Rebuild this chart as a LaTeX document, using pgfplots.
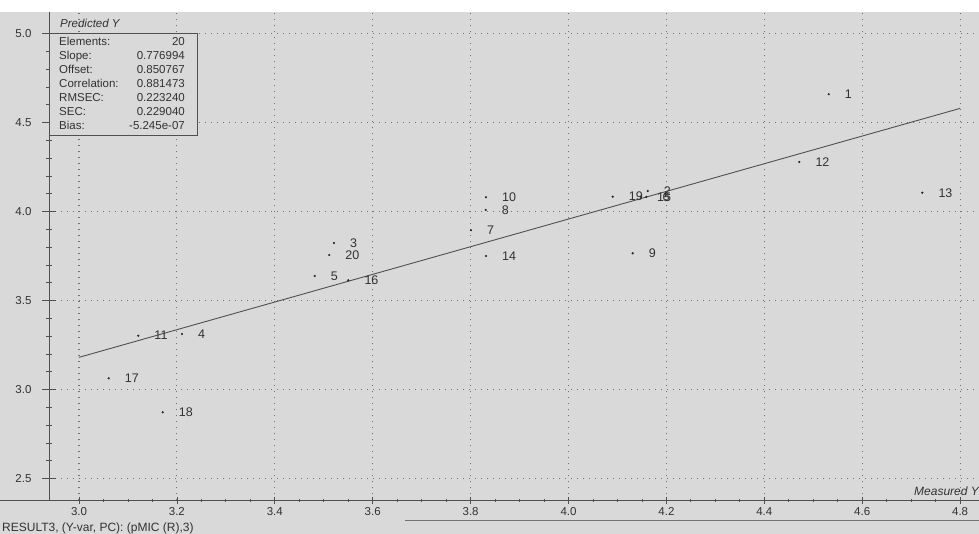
\documentclass[border=0pt]{standalone}
\usepackage{fontspec}
\setmainfont{Liberation Sans}
\usepackage{pgfplots}
\pgfplotsset{compat=1.18}
\usetikzlibrary{backgrounds}
\definecolor{bg}{RGB}{217,217,217}
\definecolor{axc}{RGB}{80,80,80}
\definecolor{gridc}{RGB}{115,115,115}
\definecolor{txt}{RGB}{50,50,50}
\newcommand\PX[2]{({((#1)-49)*1pt},{(500.5-(#2))*1pt})}
\pgfplotsset{base/.style={
  scale only axis, width=930pt, height=488pt,
  xmin=2.93871, xmax=4.83861, ymin=2.3775, ymax=5.1191,
  tick style={draw=axc,line width=0.8pt},
  tick align=outside,
  major grid style={draw=gridc,line width=1.1pt,dash pattern=on 1.1pt off 4.9pt},
  tick label style={font=\fontsize{11.5}{13}\selectfont, text=txt},
}}
\pgfplotstableread{
x y label
4.5316 4.6596 1
4.1618 4.1160 2
3.5209 3.8242 3
3.2104 3.3129 4
3.4815 3.6388 5
4.1590 4.0830 6
3.8008 3.8955 7
3.8308 4.0096 8
4.1311 3.7663 9
3.8315 4.0809 10
3.1211 3.3034 11
4.4715 4.2792 12
4.7228 4.1067 13
3.8315 3.7511 14
4.1480 4.0830 15
3.5502 3.6146 16
3.0607 3.0640 17
3.1710 2.8730 18
4.0903 4.0843 19
3.5113 3.7567 20
}\pts
\begin{document}
\begin{tikzpicture}
\begin{axis}[base,
  axis x line=bottom, axis y line=none,
  axis line style={-,draw=axc,line width=0.8pt},
  every outer x axis line/.append style={-},
  xtick={3,3.2,3.4,3.6,3.8,4,4.2,4.4,4.6,4.8},
  xticklabels={3.0,3.2,3.4,3.6,3.8,4.0,4.2,4.4,4.6,4.8},
  minor x tick num=3, xmajorgrids, ytick=\empty,
  major tick length=7pt, minor tick length=3pt,
]
\addplot[draw=none] coordinates {(3,3)};
\end{axis}
\begin{axis}[base,
  axis y line=left, axis x line=none,
  axis line style={-,draw=axc,line width=0.8pt},
  every outer y axis line/.append style={-},
  ytick={2.5,3,3.5,4,4.5,5},
  yticklabels={2.5,3.0,3.5,4.0,4.5,5.0},
  yticklabel style={xshift=-7pt},
  minor y tick num=4, ymajorgrids, xtick=\empty,
  major tick length=14pt, minor tick length=6pt,
]
\addplot[axc, line width=0.9pt] coordinates {(3.0,3.181749) (4.8,4.580338)};
\addplot[only marks, mark=*, mark size=0.9pt, black!85,
  nodes near coords, point meta=explicit symbolic,
  every node near coord/.append style={anchor=west, xshift=16pt, inner sep=0pt,
    font=\fontsize{12.5}{14}\selectfont, text=txt}]
  table[x=x, y=y, meta=label]{\pts};
\end{axis}
\node[anchor=base west, inner sep=0pt, font=\itshape\fontsize{11.5}{13}\selectfont, text=txt] at \PX{60}{28} {Predicted Y};
\draw[axc, fill=bg, line width=0.8pt] \PX{49}{33.3} rectangle \PX{197}{135};
\foreach \k/\a/\b in {0/Elements:/20, 1/Slope:/0.776994, 2/Offset:/0.850767, 3/Correlation:/0.881473, 4/RMSEC:/0.223240, 5/SEC:/0.229040, 6/Bias:/-5.245e-07}{
  \node[anchor=base west, inner sep=0pt, font=\fontsize{11.5}{13}\selectfont, text=txt] at \PX{59}{46+13.9*\k} {\a};
  \node[anchor=base east, inner sep=0pt, font=\fontsize{11.5}{13}\selectfont, text=txt] at \PX{185}{46+13.9*\k} {\b};
}
\node[anchor=base west, inner sep=0pt, font=\itshape\fontsize{12}{14}\selectfont, text=txt] at \PX{914}{496} {Measured Y};
\draw[axc, line width=0.8pt] \PX{0}{500.5} -- \PX{49}{500.5};
\draw[gridc, line width=0.8pt] \PX{405}{520} -- \PX{979}{520};
\node[anchor=base west, inner sep=0pt, font=\fontsize{12}{14}\selectfont, text=txt] at \PX{2}{531.7} {RESULT3, (Y-var, PC): (pMIC (R),3)};
\begin{scope}[on background layer]
\fill[white] \PX{0}{0} rectangle \PX{979}{534};
\fill[bg] \PX{0}{12} rectangle \PX{979}{534};
\end{scope}
\pgfresetboundingbox
\path[use as bounding box] \PX{0}{0} rectangle \PX{979}{534};
\end{tikzpicture}
\end{document}
